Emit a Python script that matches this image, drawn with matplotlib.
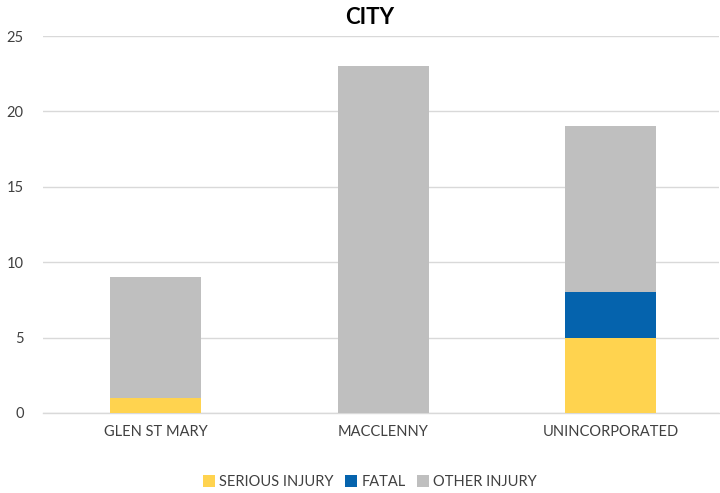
import matplotlib
matplotlib.use("Agg")
import matplotlib.pyplot as plt
import numpy as np

categories = ["GLEN ST MARY", "MACCLENNY", "UNINCORPORATED"]
serious = [1, 0, 5]
fatal = [0, 0, 3]
other = [8, 23, 11]
yticks = [0, 5, 10, 15, 20, 25]

plt.rcParams['font.family'] = ['Lato', 'DejaVu Sans']

fig = plt.figure(figsize=(7.2, 4.93), dpi=100)
ax = fig.add_axes([43/720, 1-413/493, (719-43)/720, (413-36)/493])

x = np.arange(len(categories))
w = 0.4
s = np.array(serious); f = np.array(fatal); o = np.array(other)
ax.bar(x, s, w, color="#FFD34F", label="SERIOUS INJURY", zorder=3)
ax.bar(x, f, w, bottom=s, color="#0563AD", label="FATAL", zorder=3)
ax.bar(x, o, w, bottom=s+f, color="#BFBFBF", label="OTHER INJURY", zorder=3)

ax.set_xlim(-0.4967, 2.475)
ax.set_ylim(0, 25)
ax.set_yticks(yticks)
ax.set_xticks(x)
ax.set_xticklabels(categories)
ax.grid(axis='y', color="#D9D9D9", linewidth=1, zorder=0)
for sp in ["top", "right", "left"]:
    ax.spines[sp].set_visible(False)
ax.spines["bottom"].set_color("#D9D9D9")
ax.spines["bottom"].set_linewidth(1)
ax.tick_params(axis='both', length=0, labelsize=10.5, colors="#404040")
ax.tick_params(axis='y', pad=14)
ax.tick_params(axis='x', pad=9)

fig.text(370/720, 1-18/493, "CITY", ha='center', va='center', fontsize=16, fontweight='bold', color='black')

leg = fig.legend(loc='center', bbox_to_anchor=(370/720, 1-482/493), ncol=3, frameon=False,
                 fontsize=10.5, handlelength=0.8, handleheight=0.8, handletextpad=0.3, columnspacing=0.8)
for t in leg.get_texts():
    t.set_color("#404040")

fig.savefig("out.png", dpi=100)
